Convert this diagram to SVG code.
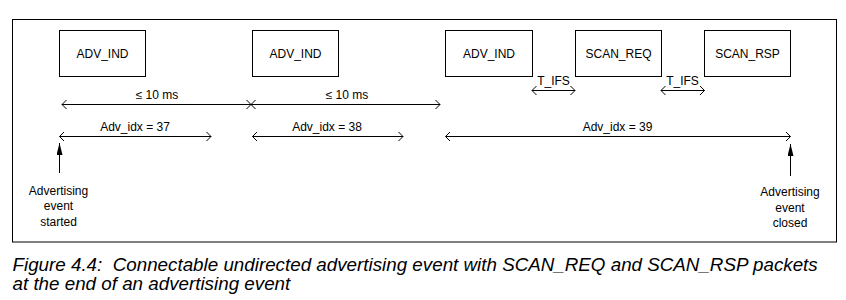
<svg xmlns="http://www.w3.org/2000/svg" width="846" height="300" viewBox="0 0 846 300">
  <style>
    .box { fill: #fff; stroke: #000; stroke-width: 1; }
    .lbl { font-family: "Liberation Sans", Arial, sans-serif; font-size: 12px; fill: #000; text-anchor: middle; }
    .cap { font-family: "Liberation Sans", Arial, sans-serif; font-size: 18.8px; font-style: italic; fill: #000; }
    .ln { stroke: #000; stroke-width: 1; fill: none; }
  </style>
  <defs>
    <!-- open chevron head for dimension lines -->
    <marker id="open" viewBox="0 0 4.5 9" refX="4.5" refY="4.5" markerWidth="4.5" markerHeight="9" markerUnits="userSpaceOnUse" orient="auto-start-reverse" overflow="visible">
      <path d="M0,0 L4.5,4.5 L0,9" fill="none" stroke="#000" stroke-width="1"/>
    </marker>
    <!-- filled head for event pointers -->
    <marker id="solid" viewBox="0 0 12 6" refX="12" refY="3" markerWidth="12" markerHeight="6" markerUnits="userSpaceOnUse" orient="auto">
      <path d="M0,0 L12,3 L0,6 Z" fill="#000"/>
    </marker>
  </defs>

  <rect x="12.5" y="19.5" width="824" height="222.5" fill="#fff" stroke="#000" stroke-width="1"/>

  <g id="adv-ind-1">
    <rect class="box" x="59.5" y="30.5" width="86" height="46"/>
    <text class="lbl" x="102.5" y="57.5">ADV_IND</text>
  </g>
  <g id="adv-ind-2">
    <rect class="box" x="252.5" y="30.5" width="86" height="46"/>
    <text class="lbl" x="295.5" y="57.5">ADV_IND</text>
  </g>
  <g id="adv-ind-3">
    <rect class="box" x="445.5" y="30.5" width="87" height="46"/>
    <text class="lbl" x="489" y="57.5">ADV_IND</text>
  </g>
  <g id="scan-req">
    <rect class="box" x="575.5" y="30.5" width="86" height="46"/>
    <text class="lbl" x="618.5" y="57.5">SCAN_REQ</text>
  </g>
  <g id="scan-rsp">
    <rect class="box" x="704.5" y="30.5" width="86" height="46"/>
    <text class="lbl" x="747.5" y="57.5">SCAN_RSP</text>
  </g>

  <g id="connectors">
    <!-- interval between advertising packets -->
    <line class="ln" x1="62" y1="104.5" x2="251" y2="104.5" marker-start="url(#open)" marker-end="url(#open)"/>
    <line class="ln" x1="251" y1="104.5" x2="440" y2="104.5" marker-start="url(#open)" marker-end="url(#open)"/>
    <!-- inter frame spacing -->
    <line class="ln" x1="532" y1="90.5" x2="575" y2="90.5" marker-start="url(#open)" marker-end="url(#open)"/>
    <line class="ln" x1="661" y1="90.5" x2="704.5" y2="90.5" marker-start="url(#open)" marker-end="url(#open)"/>
    <!-- advertising channel index spans -->
    <line class="ln" x1="59.5" y1="136.5" x2="211" y2="136.5" marker-start="url(#open)" marker-end="url(#open)"/>
    <line class="ln" x1="252.5" y1="136.5" x2="403" y2="136.5" marker-start="url(#open)" marker-end="url(#open)"/>
    <line class="ln" x1="445.5" y1="136.5" x2="790.5" y2="136.5" marker-start="url(#open)" marker-end="url(#open)"/>
    <!-- event start / end pointers -->
    <line class="ln" x1="59.5" y1="173" x2="59.5" y2="143" marker-end="url(#solid)"/>
    <line class="ln" x1="790.5" y1="176" x2="790.5" y2="144" marker-end="url(#solid)"/>
  </g>

  <g id="labels">
    <text class="lbl" x="157" y="99">≤ 10 ms</text>
    <text class="lbl" x="347" y="99">≤ 10 ms</text>
    <text class="lbl" x="553.5" y="84.5">T_IFS</text>
    <text class="lbl" x="682.5" y="84.5">T_IFS</text>
    <text class="lbl" x="135" y="131">Adv_idx = 37</text>
    <text class="lbl" x="327" y="131">Adv_idx = 38</text>
    <text class="lbl" x="617.5" y="131">Adv_idx = 39</text>
  </g>

  <g id="event-started">
    <text class="lbl" x="58.5" y="194.5">Advertising</text>
    <text class="lbl" x="58.5" y="210">event</text>
    <text class="lbl" x="58.5" y="225.5">started</text>
  </g>
  <g id="event-closed">
    <text class="lbl" x="790" y="196">Advertising</text>
    <text class="lbl" x="790" y="211.5">event</text>
    <text class="lbl" x="790" y="227">closed</text>
  </g>

  <text class="cap" x="12.5" y="270.5" xml:space="preserve">Figure 4.4:  Connectable undirected advertising event with SCAN_REQ and SCAN_RSP packets</text>
  <text class="cap" x="12.5" y="289.5">at the end of an advertising event</text>
</svg>
